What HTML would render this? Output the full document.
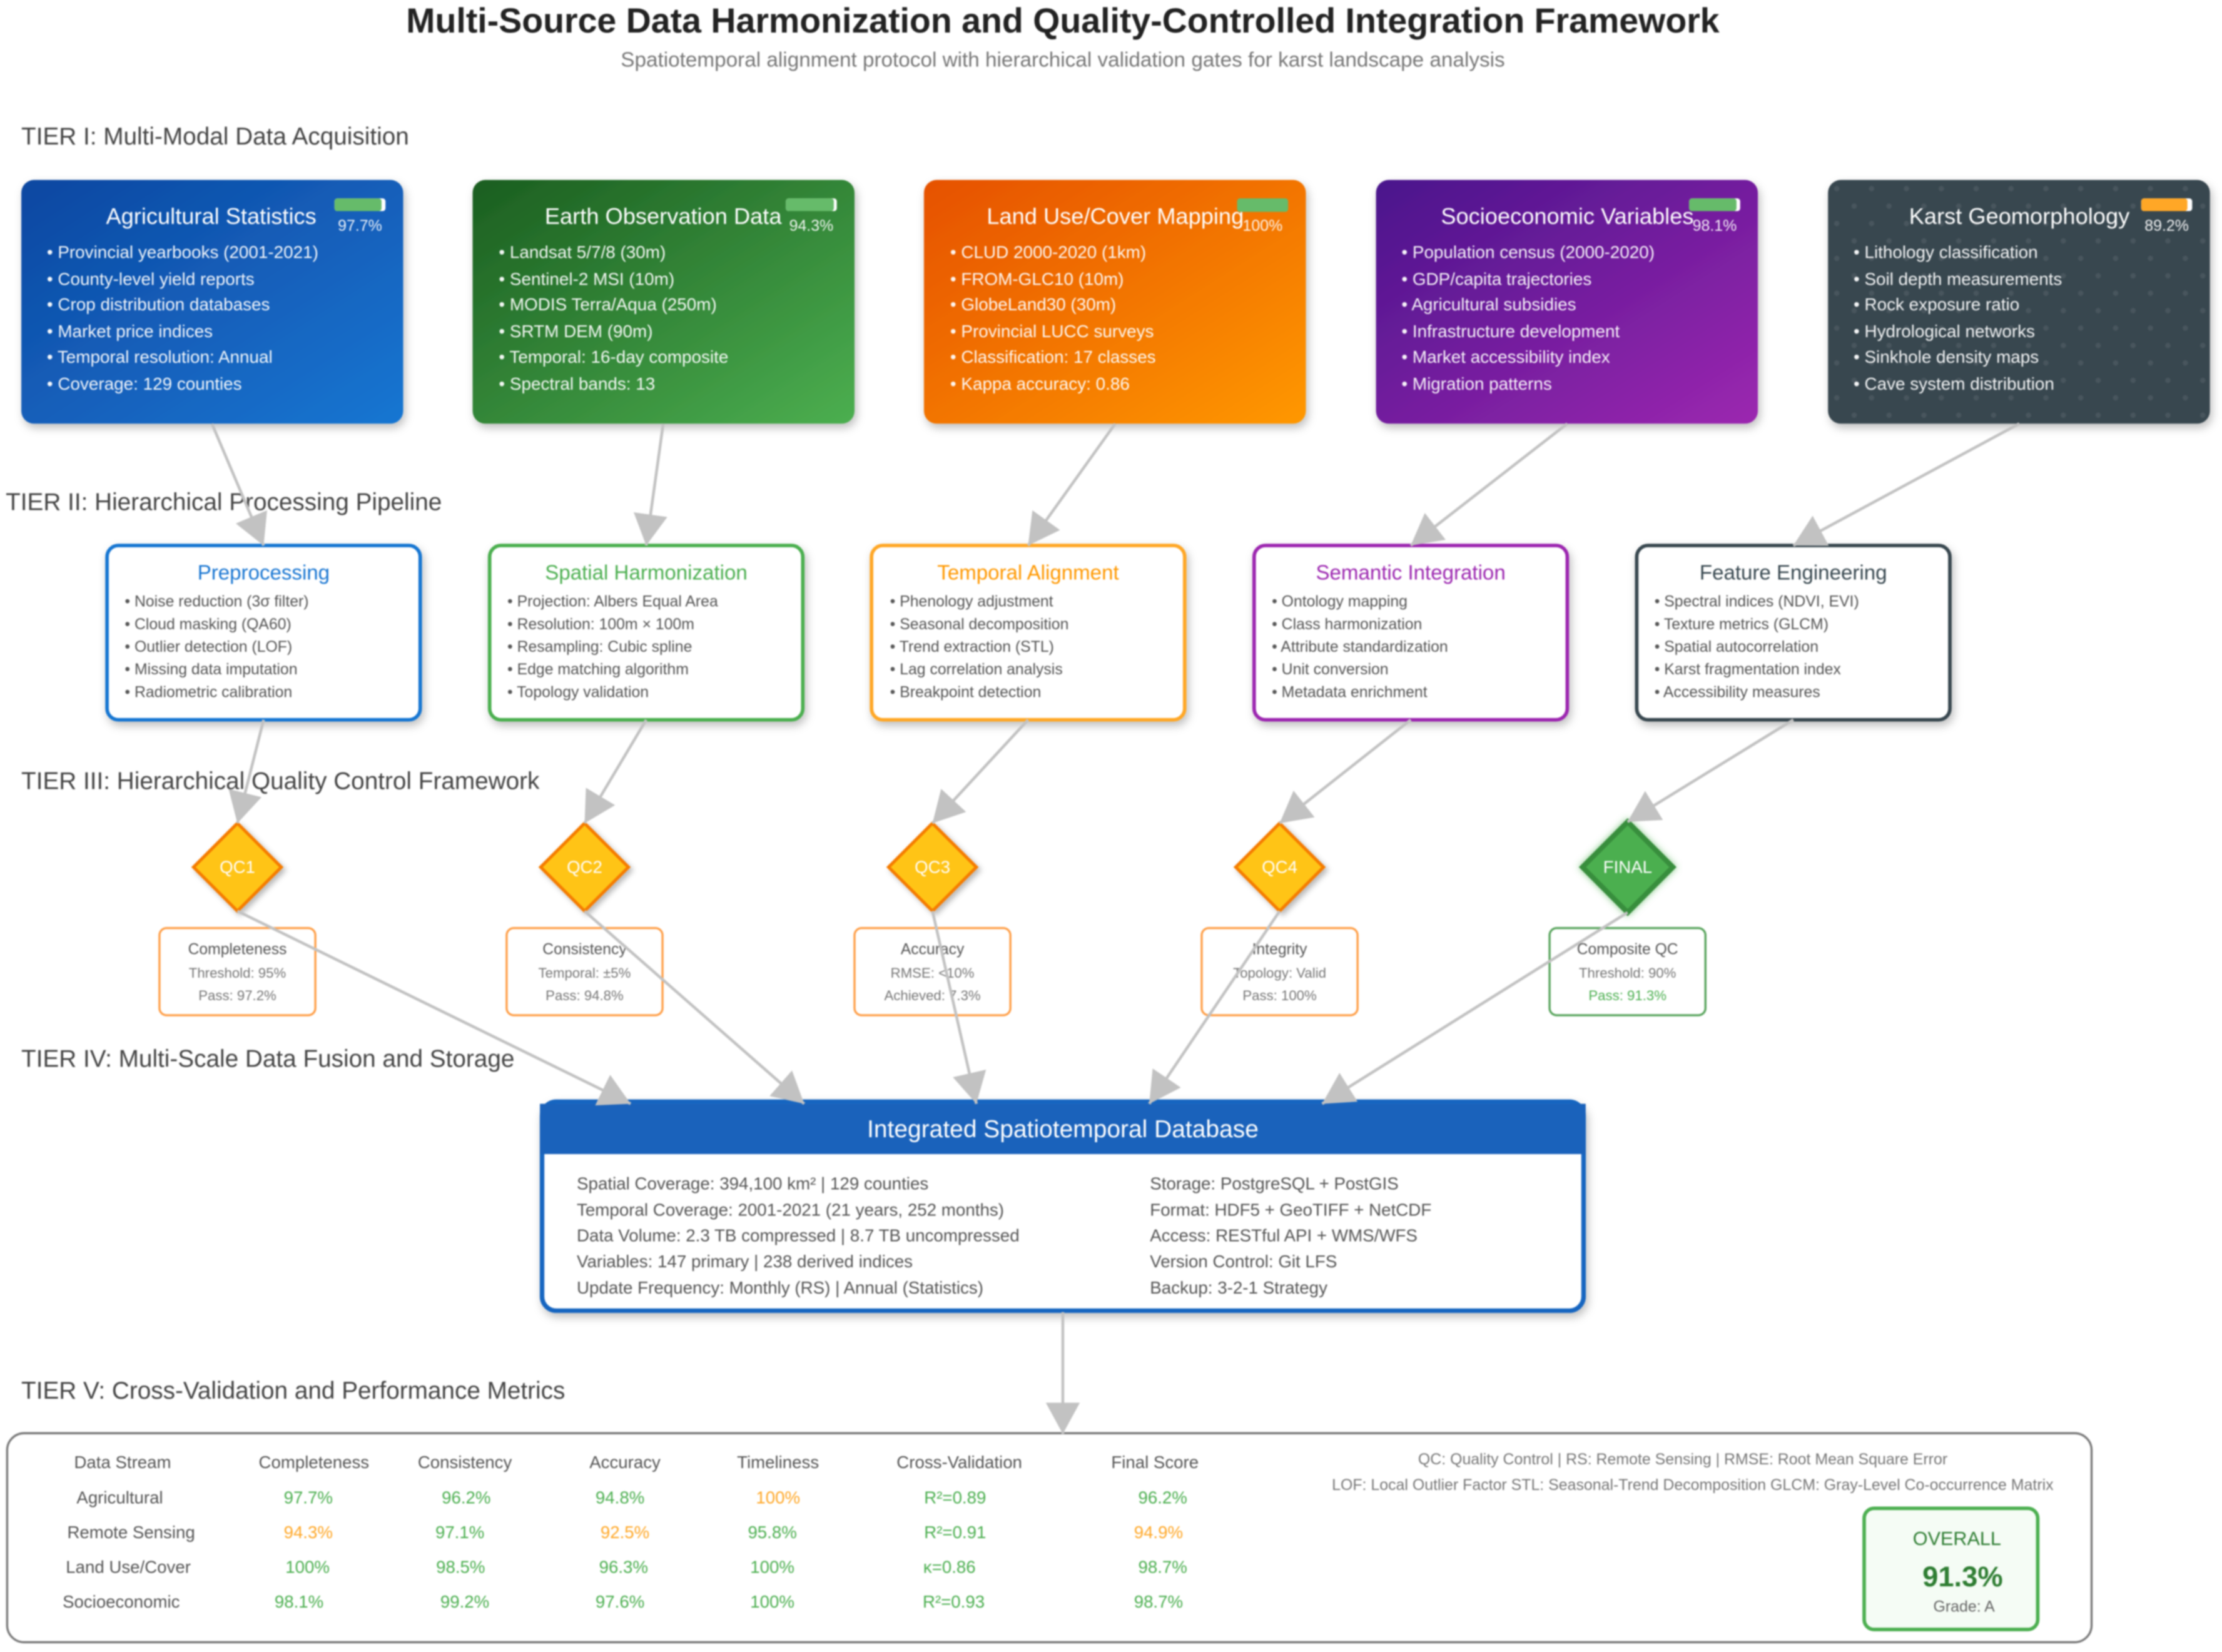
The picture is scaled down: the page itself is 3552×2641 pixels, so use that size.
<!DOCTYPE html>
<html lang="en"><head><meta charset="utf-8"><title>Multi-Source Data Harmonization and Quality-Controlled Integration Framework</title>
<style>
html,body{margin:0;padding:0;background:#fff}
svg{display:block;filter:blur(1px)}
text{font-family:"Liberation Sans",Arial,sans-serif}
.tier{font-size:17.1px;fill:#444}
.ct{font-size:16px;fill:#fff;text-anchor:middle}
.cb{font-size:12.3px;fill:#fff;opacity:.95}
.pct{font-size:11px;fill:#fff;text-anchor:middle;opacity:.92}
.pt{font-size:14.6px;text-anchor:middle}
.pb{font-size:10.95px;fill:#555}
.qn{font-size:12.2px;fill:#fff;text-anchor:middle}
.qt{font-size:10.9px;fill:#555;text-anchor:middle}
.qs{font-size:9.8px;fill:#777;text-anchor:middle}
.db{font-size:12.25px;fill:#555}
.th{font-size:12.2px;fill:#555;text-anchor:middle}
.g{font-size:12.2px;fill:#4caf50;text-anchor:middle}
.o{font-size:12.2px;fill:#ffa726;text-anchor:middle}
.n{font-size:11px;fill:#777;text-anchor:middle}
</style></head><body>
<svg xmlns="http://www.w3.org/2000/svg" width="3552" height="2641" viewBox="0 0 1568 1165.9">
<defs>
<linearGradient id="g1" x1="0" y1="0" x2="1" y2="1"><stop offset="0" stop-color="#0d47a1"/><stop offset="1" stop-color="#1976d2"/></linearGradient>
<linearGradient id="g2" x1="0" y1="0" x2="1" y2="1"><stop offset="0" stop-color="#1b5e20"/><stop offset="1" stop-color="#4caf50"/></linearGradient>
<linearGradient id="g3" x1="0" y1="0" x2="1" y2="1"><stop offset="0" stop-color="#e65100"/><stop offset="1" stop-color="#ff9800"/></linearGradient>
<linearGradient id="g4" x1="0" y1="0" x2="1" y2="1"><stop offset="0" stop-color="#4a148c"/><stop offset="1" stop-color="#9c27b0"/></linearGradient>
<pattern id="dots" patternUnits="userSpaceOnUse" x="1290" y="127" width="24.6" height="24.6"><circle cx="6.15" cy="6.15" r="1.9" fill="#fff" fill-opacity=".08"/><circle cx="18.45" cy="18.45" r="1.9" fill="#fff" fill-opacity=".08"/></pattern>
<filter id="sh" x="-10%" y="-10%" width="120%" height="125%"><feDropShadow dx="1.5" dy="3" stdDeviation="3" flood-color="#000" flood-opacity=".25"/></filter>
<filter id="sd" x="-30%" y="-30%" width="160%" height="160%"><feDropShadow dx="2" dy="2" stdDeviation="2" flood-color="#000" flood-opacity=".28"/></filter>
<filter id="glow" x="-30%" y="-30%" width="160%" height="160%"><feDropShadow dx="0" dy="0" stdDeviation="2.5" flood-color="#4caf50" flood-opacity=".7"/></filter>
<marker id="ah" markerUnits="userSpaceOnUse" markerWidth="24" markerHeight="24" refX="22" refY="12" orient="auto"><path d="M0 0L22 12L0 24z" fill="#c2c2c2"/></marker>
</defs>
<rect width="1568" height="1165.9" fill="#fff"/>

<text x="750" y="23" text-anchor="middle" font-size="24.5" font-weight="bold" fill="#222">Multi-Source Data Harmonization and Quality-Controlled Integration Framework</text>
<text x="750" y="47" text-anchor="middle" font-size="14.7" fill="#777">Spatiotemporal alignment protocol with hierarchical validation gates for karst landscape analysis</text>

<text class="tier" x="15" y="102">TIER I: Multi-Modal Data Acquisition</text>
<text class="tier" x="4" y="360">TIER II: Hierarchical Processing Pipeline</text>
<text class="tier" x="15" y="557">TIER III: Hierarchical Quality Control Framework</text>
<text class="tier" x="15" y="753">TIER IV: Multi-Scale Data Fusion and Storage</text>
<text class="tier" x="15" y="987">TIER V: Cross-Validation and Performance Metrics</text>

<!-- Tier I -->
<g filter="url(#sh)"><rect x="15" y="127" width="269.5" height="172" rx="9" fill="url(#g1)"/></g>
<rect x="236" y="140" width="36" height="9" rx="2" fill="#fff"/><rect x="236" y="140" width="33.2" height="9" rx="2" fill="#66bb6a"/>
<text class="pct" x="254" y="163">97.7%</text>
<text class="ct" x="149" y="158">Agricultural Statistics</text>
<text class="cb" x="33" y="182">• Provincial yearbooks (2001-2021)</text><text class="cb" x="33" y="201">• County-level yield reports</text><text class="cb" x="33" y="219">• Crop distribution databases</text><text class="cb" x="33" y="238">• Market price indices</text><text class="cb" x="33" y="256">• Temporal resolution: Annual</text><text class="cb" x="33" y="275">• Coverage: 129 counties</text>

<g filter="url(#sh)"><rect x="333.5" y="127" width="269.5" height="172" rx="9" fill="url(#g2)"/></g>
<rect x="554.5" y="140" width="36" height="9" rx="2" fill="#fff"/><rect x="554.5" y="140" width="33.9" height="9" rx="2" fill="#66bb6a"/>
<text class="pct" x="572.5" y="163">94.3%</text>
<text class="ct" x="468" y="158">Earth Observation Data</text>
<text class="cb" x="352" y="182">• Landsat 5/7/8 (30m)</text><text class="cb" x="352" y="201">• Sentinel-2 MSI (10m)</text><text class="cb" x="352" y="219">• MODIS Terra/Aqua (250m)</text><text class="cb" x="352" y="238">• SRTM DEM (90m)</text><text class="cb" x="352" y="256">• Temporal: 16-day composite</text><text class="cb" x="352" y="275">• Spectral bands: 13</text>

<g filter="url(#sh)"><rect x="652" y="127" width="269.5" height="172" rx="9" fill="url(#g3)"/></g>
<rect x="873" y="140" width="36" height="9.5" rx="2" fill="#66bb6a"/>
<text class="pct" x="891" y="163">100%</text>
<text class="ct" x="787" y="158">Land Use/Cover Mapping</text>
<text class="cb" x="670.5" y="182">• CLUD 2000-2020 (1km)</text><text class="cb" x="670.5" y="201">• FROM-GLC10 (10m)</text><text class="cb" x="670.5" y="219">• GlobeLand30 (30m)</text><text class="cb" x="670.5" y="238">• Provincial LUCC surveys</text><text class="cb" x="670.5" y="256">• Classification: 17 classes</text><text class="cb" x="670.5" y="275">• Kappa accuracy: 0.86</text>

<g filter="url(#sh)"><rect x="971" y="127" width="269.5" height="172" rx="9" fill="url(#g4)"/></g>
<rect x="1192" y="140" width="36" height="9" rx="2" fill="#fff"/><rect x="1192" y="140" width="33.4" height="9" rx="2" fill="#66bb6a"/>
<text class="pct" x="1210" y="163">98.1%</text>
<text class="ct" x="1106" y="158">Socioeconomic Variables</text>
<text class="cb" x="989" y="182">• Population census (2000-2020)</text><text class="cb" x="989" y="201">• GDP/capita trajectories</text><text class="cb" x="989" y="219">• Agricultural subsidies</text><text class="cb" x="989" y="238">• Infrastructure development</text><text class="cb" x="989" y="256">• Market accessibility index</text><text class="cb" x="989" y="275">• Migration patterns</text>

<g filter="url(#sh)"><rect x="1290" y="127" width="269.5" height="172" rx="9" fill="#37474f"/></g>
<rect x="1290" y="127" width="269.5" height="172" rx="9" fill="url(#dots)"/>
<rect x="1511" y="140" width="36" height="9" rx="2" fill="#fff"/><rect x="1511" y="140" width="32.6" height="9" rx="2" fill="#ffa726"/>
<text class="pct" x="1529" y="163">89.2%</text>
<text class="ct" x="1425" y="158">Karst Geomorphology</text>
<text class="cb" x="1308" y="182">• Lithology classification</text><text class="cb" x="1308" y="201">• Soil depth measurements</text><text class="cb" x="1308" y="219">• Rock exposure ratio</text><text class="cb" x="1308" y="238">• Hydrological networks</text><text class="cb" x="1308" y="256">• Sinkhole density maps</text><text class="cb" x="1308" y="275">• Cave system distribution</text>

<!-- Tier II -->
<g filter="url(#sh)"><rect x="75.5" y="385" width="221" height="123" rx="8" fill="#fff" stroke="#1976d2" stroke-width="2.5"/></g>
<text class="pt" x="186" y="409" fill="#1976d2">Preprocessing</text>
<text class="pb" x="88" y="428">• Noise reduction (3σ filter)</text><text class="pb" x="88" y="444">• Cloud masking (QA60)</text><text class="pb" x="88" y="460">• Outlier detection (LOF)</text><text class="pb" x="88" y="476">• Missing data imputation</text><text class="pb" x="88" y="492">• Radiometric calibration</text>

<g filter="url(#sh)"><rect x="345.5" y="385" width="221" height="123" rx="8" fill="#fff" stroke="#4caf50" stroke-width="2.5"/></g>
<text class="pt" x="456" y="409" fill="#4caf50">Spatial Harmonization</text>
<text class="pb" x="358" y="428">• Projection: Albers Equal Area</text><text class="pb" x="358" y="444">• Resolution: 100m × 100m</text><text class="pb" x="358" y="460">• Resampling: Cubic spline</text><text class="pb" x="358" y="476">• Edge matching algorithm</text><text class="pb" x="358" y="492">• Topology validation</text>

<g filter="url(#sh)"><rect x="615" y="385" width="221" height="123" rx="8" fill="#fff" stroke="#ffa726" stroke-width="2.5"/></g>
<text class="pt" x="725.5" y="409" fill="#ff9800">Temporal Alignment</text>
<text class="pb" x="628" y="428">• Phenology adjustment</text><text class="pb" x="628" y="444">• Seasonal decomposition</text><text class="pb" x="628" y="460">• Trend extraction (STL)</text><text class="pb" x="628" y="476">• Lag correlation analysis</text><text class="pb" x="628" y="492">• Breakpoint detection</text>

<g filter="url(#sh)"><rect x="885" y="385" width="221" height="123" rx="8" fill="#fff" stroke="#9c27b0" stroke-width="2.5"/></g>
<text class="pt" x="995.5" y="409" fill="#9c27b0">Semantic Integration</text>
<text class="pb" x="897.5" y="428">• Ontology mapping</text><text class="pb" x="897.5" y="444">• Class harmonization</text><text class="pb" x="897.5" y="460">• Attribute standardization</text><text class="pb" x="897.5" y="476">• Unit conversion</text><text class="pb" x="897.5" y="492">• Metadata enrichment</text>

<g filter="url(#sh)"><rect x="1155" y="385" width="221" height="123" rx="8" fill="#fff" stroke="#37474f" stroke-width="2.5"/></g>
<text class="pt" x="1265.5" y="409" fill="#37474f">Feature Engineering</text>
<text class="pb" x="1167.5" y="428">• Spectral indices (NDVI, EVI)</text><text class="pb" x="1167.5" y="444">• Texture metrics (GLCM)</text><text class="pb" x="1167.5" y="460">• Spatial autocorrelation</text><text class="pb" x="1167.5" y="476">• Karst fragmentation index</text><text class="pb" x="1167.5" y="492">• Accessibility measures</text>

<!-- Tier III -->
<g fill="#ffc414" stroke="#f57c00" stroke-width="2.2" filter="url(#sd)">
<polygon points="167.5,581 198.5,612 167.5,643 136.5,612"/>
<polygon points="412.5,581 443.5,612 412.5,643 381.5,612"/>
<polygon points="658,581 689,612 658,643 627,612"/>
<polygon points="903,581 934,612 903,643 872,612"/>
</g>
<polygon points="1148.6,580 1180.5,612 1148.6,644 1116.7,612" fill="#4caf50" stroke="#388e3c" stroke-width="3.6" filter="url(#glow)"/>
<text class="qn" x="167.5" y="616">QC1</text><text class="qn" x="412.5" y="616">QC2</text><text class="qn" x="658" y="616">QC3</text><text class="qn" x="903" y="616">QC4</text><text class="qn" x="1148.6" y="616">FINAL</text>

<g fill="#fff" stroke="#ffa04a" stroke-width="1.5">
<rect x="112.5" y="655" width="110" height="61.5" rx="5"/>
<rect x="357.5" y="655" width="110" height="61.5" rx="5"/>
<rect x="603" y="655" width="110" height="61.5" rx="5"/>
<rect x="848" y="655" width="110" height="61.5" rx="5"/>
</g>
<rect x="1093.5" y="655" width="110" height="61.5" rx="5" fill="#fff" stroke="#5aa55e" stroke-width="1.5"/>
<text class="qt" x="167.5" y="673.5">Completeness</text><text class="qs" x="167.5" y="690">Threshold: 95%</text><text class="qs" x="167.5" y="706">Pass: 97.2%</text>
<text class="qt" x="412.5" y="673.5">Consistency</text><text class="qs" x="412.5" y="690">Temporal: ±5%</text><text class="qs" x="412.5" y="706">Pass: 94.8%</text>
<text class="qt" x="658" y="673.5">Accuracy</text><text class="qs" x="658" y="690">RMSE: &lt;10%</text><text class="qs" x="658" y="706">Achieved: 7.3%</text>
<text class="qt" x="903" y="673.5">Integrity</text><text class="qs" x="903" y="690">Topology: Valid</text><text class="qs" x="903" y="706">Pass: 100%</text>
<text class="qt" x="1148.5" y="673.5">Composite QC</text><text class="qs" x="1148.5" y="690">Threshold: 90%</text><text class="qs" x="1148.5" y="706" style="fill:#4caf50">Pass: 91.3%</text>

<!-- Tier IV -->
<g filter="url(#sh)"><rect x="382.5" y="777.5" width="735" height="147.5" rx="10" fill="#fff" stroke="#1565c0" stroke-width="3.2"/></g>
<path d="M381 814.5V779h738v35.5z" fill="#1a62bb"/>
<text x="750" y="802.5" text-anchor="middle" font-size="17.2" fill="#fff">Integrated Spatiotemporal Database</text>
<text class="db" x="407" y="839.5">Spatial Coverage: 394,100 km² | 129 counties</text>
<text class="db" x="407" y="858">Temporal Coverage: 2001-2021 (21 years, 252 months)</text>
<text class="db" x="407" y="876">Data Volume: 2.3 TB compressed | 8.7 TB uncompressed</text>
<text class="db" x="407" y="894.5">Variables: 147 primary | 238 derived indices</text>
<text class="db" x="407" y="913">Update Frequency: Monthly (RS) | Annual (Statistics)</text>
<text class="db" x="811.5" y="839.5">Storage: PostgreSQL + PostGIS</text>
<text class="db" x="811.5" y="858">Format: HDF5 + GeoTIFF + NetCDF</text>
<text class="db" x="811.5" y="876">Access: RESTful API + WMS/WFS</text>
<text class="db" x="811.5" y="894.5">Version Control: Git LFS</text>
<text class="db" x="811.5" y="913">Backup: 3-2-1 Strategy</text>

<!-- Tier V -->
<rect x="5" y="1011.5" width="1471" height="147.5" rx="12" fill="#fff" stroke="#7a7a7a" stroke-width="1.5"/>
<text class="th" x="86.5" y="1036">Data Stream</text><text class="th" x="221.5" y="1036">Completeness</text><text class="th" x="328" y="1036">Consistency</text><text class="th" x="441" y="1036">Accuracy</text><text class="th" x="549" y="1036">Timeliness</text><text class="th" x="677" y="1036">Cross-Validation</text><text class="th" x="815" y="1036">Final Score</text>
<text class="th" x="84.5" y="1061">Agricultural</text><text class="g" x="217.5" y="1061">97.7%</text><text class="g" x="329" y="1061">96.2%</text><text class="g" x="437.5" y="1061">94.8%</text><text class="o" x="549" y="1061">100%</text><text class="g" x="674" y="1061">R²=0.89</text><text class="g" x="820.5" y="1061">96.2%</text>
<text class="th" x="92.5" y="1085.5">Remote Sensing</text><text class="o" x="217.5" y="1085.5">94.3%</text><text class="g" x="324.5" y="1085.5">97.1%</text><text class="o" x="441" y="1085.5">92.5%</text><text class="g" x="545" y="1085.5">95.8%</text><text class="g" x="674" y="1085.5">R²=0.91</text><text class="o" x="817.5" y="1085.5">94.9%</text>
<text class="th" x="90.5" y="1110">Land Use/Cover</text><text class="g" x="217" y="1110">100%</text><text class="g" x="325" y="1110">98.5%</text><text class="g" x="440" y="1110">96.3%</text><text class="g" x="545" y="1110">100%</text><text class="g" x="670" y="1110">κ=0.86</text><text class="g" x="820.5" y="1110">98.7%</text>
<text class="th" x="85.5" y="1134.5">Socioeconomic</text><text class="g" x="211" y="1134.5">98.1%</text><text class="g" x="328" y="1134.5">99.2%</text><text class="g" x="437.5" y="1134.5">97.6%</text><text class="g" x="545" y="1134.5">100%</text><text class="g" x="673" y="1134.5">R²=0.93</text><text class="g" x="817.5" y="1134.5">98.7%</text>
<text class="n" x="1187.5" y="1033.5">QC: Quality Control | RS: Remote Sensing | RMSE: Root Mean Square Error</text>
<text class="n" x="1194.5" y="1051.5">LOF: Local Outlier Factor STL: Seasonal-Trend Decomposition GLCM: Gray-Level Co-occurrence Matrix</text>
<rect x="1315.5" y="1064.5" width="122.5" height="85.5" rx="7" fill="#f5fcf5" stroke="#4caf50" stroke-width="2.5"/>
<text x="1381" y="1090.5" text-anchor="middle" font-size="13.5" fill="#2e7d32">OVERALL</text>
<text x="1385" y="1119.5" text-anchor="middle" font-size="20" font-weight="bold" fill="#2e7d32">91.3%</text>
<text x="1386" y="1137.5" text-anchor="middle" font-size="11" fill="#666">Grade: A</text>

<!-- Connectors -->
<g stroke="#c2c2c2" stroke-width="2" fill="none">
<line x1="149.5" y1="299" x2="186" y2="385" marker-end="url(#ah)"/>
<line x1="468" y1="299" x2="456" y2="385" marker-end="url(#ah)"/>
<line x1="787" y1="299" x2="725.5" y2="385" marker-end="url(#ah)"/>
<line x1="1106" y1="299" x2="995.5" y2="385" marker-end="url(#ah)"/>
<line x1="1425" y1="299" x2="1265.5" y2="385" marker-end="url(#ah)"/>
<line x1="186" y1="508" x2="167.5" y2="581" marker-end="url(#ah)"/>
<line x1="456" y1="508" x2="412.5" y2="581" marker-end="url(#ah)"/>
<line x1="725.5" y1="508" x2="658" y2="581" marker-end="url(#ah)"/>
<line x1="995.5" y1="508" x2="903" y2="581" marker-end="url(#ah)"/>
<line x1="1265.5" y1="508" x2="1148.5" y2="580" marker-end="url(#ah)"/>
<line x1="167.5" y1="643" x2="445" y2="779" marker-end="url(#ah)"/>
<line x1="412.5" y1="643" x2="567.5" y2="779" marker-end="url(#ah)"/>
<line x1="658" y1="643" x2="689" y2="779" marker-end="url(#ah)"/>
<line x1="903" y1="643" x2="811" y2="779" marker-end="url(#ah)"/>
<line x1="1148.5" y1="644" x2="933" y2="779" marker-end="url(#ah)"/>
<line x1="750" y1="926" x2="750" y2="1012" marker-end="url(#ah)"/>
</g>
</svg>
</body></html>
